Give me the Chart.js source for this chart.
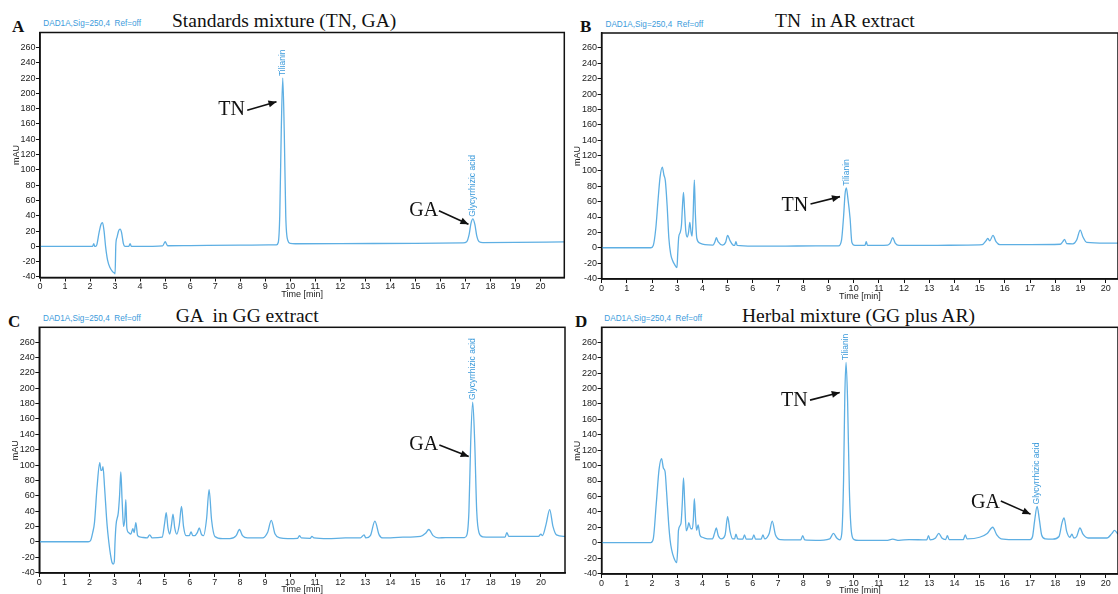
<!DOCTYPE html>
<html>
<head>
<meta charset="utf-8">
<script src="https://cdn.jsdelivr.net/npm/chart.js@4.4.1/dist/chart.umd.min.js"></script>
<style>
  body { margin: 0; background: #fff; }
  #page { position: relative; width: 1118px; height: 594px; overflow: hidden; background: #fff; }
  canvas { position: absolute; }
  .title { position: absolute; font-family: "Liberation Serif", "Times New Roman", serif; font-size: 19.5px; line-height: 1; color: #111; white-space: pre; }
  .letter { position: absolute; font-family: "Liberation Serif", "Times New Roman", serif; font-weight: bold; font-size: 17px; line-height: 1; color: #111; }
  .sig { position: absolute; font-family: "Liberation Sans", Arial, sans-serif; font-size: 8.2px; line-height: 1; color: #3c9bdb; white-space: pre; }
</style>
</head>
<body>
<div id="page">
  <div class="letter" style="left:12px;top:17.5px">A</div>
  <div class="sig" style="left:43.3px;top:20.4px">DAD1A,Sig=250,4  Ref=off</div>
  <div class="title" style="left:172px;top:11.2px">Standards mixture (TN, GA)</div>

  <div class="letter" style="left:580px;top:17.5px">B</div>
  <div class="sig" style="left:605.5px;top:21px">DAD1A,Sig=250,4  Ref=off</div>
  <div class="title" style="left:775px;top:11.4px">TN  in AR extract</div>

  <div class="letter" style="left:8px;top:312.8px">C</div>
  <div class="sig" style="left:43px;top:315px">DAD1A,Sig=250,4  Ref=off</div>
  <div class="title" style="left:175.7px;top:306px">GA  in GG extract</div>

  <div class="letter" style="left:575px;top:312.5px">D</div>
  <div class="sig" style="left:604.3px;top:315px">DAD1A,Sig=250,4  Ref=off</div>
  <div class="title" style="left:742px;top:306px">Herbal mixture (GG plus AR)</div>

  <canvas id="chartA" width="566" height="300" style="left:0;top:0"></canvas>
  <canvas id="chartB" width="552" height="302" style="left:566px;top:0"></canvas>
  <canvas id="chartC" width="566" height="299" style="left:0;top:296px"></canvas>
  <canvas id="chartD" width="552" height="300" style="left:566px;top:296px"></canvas>
</div>
<script>
// Axis ticks
const xTicks = [0, 1, 2, 3, 4, 5, 6, 7, 8, 9, 10, 11, 12, 13, 14, 15, 16, 17, 18, 19, 20];
const yTicks = [-40, -20, 0, 20, 40, 60, 80, 100, 120, 140, 160, 180, 200, 220, 240, 260];

// Traces: [time (min), mAU]
const traceA = [
  [0, 0], [1.0, 0], [2.1, 0], [2.15, 3.5], [2.18, 0.3], [2.22, 0], [2.27, 2], [2.36, 18], [2.44, 29],
  [2.5, 31], [2.56, 20], [2.62, 0], [2.7, -18], [2.8, -28], [2.9, -33], [2.97, -35], [3.0, -36],
  [3.03, 2], [3.08, 12], [3.14, 20], [3.2, 22.5], [3.26, 18], [3.33, 4], [3.4, 0], [3.55, 0],
  [3.6, 3.5], [3.65, 0], [4.5, 0], [4.9, 0.5], [5.0, 6], [5.1, 0.8], [6.0, 1], [8.0, 1.5],
  [9.45, 2], [9.52, 5], [9.58, 40], [9.64, 150], [9.7, 220], [9.76, 150], [9.82, 40], [9.9, 8],
  [10.0, 3.8], [10.2, 3.4], [12.0, 3.5], [15.0, 4], [16.9, 4.6], [17.05, 6], [17.15, 16], [17.22, 30],
  [17.3, 36], [17.38, 28], [17.45, 14], [17.55, 6], [17.7, 5], [19.0, 5.2], [20.95, 5.8]
];

const traceB = [
  [0, 0], [1.95, 0], [2.05, 3], [2.15, 25], [2.24, 62], [2.32, 92], [2.41, 105], [2.47, 95], [2.53, 87],
  [2.6, 55], [2.67, 12], [2.74, -8], [2.82, -17], [2.9, -22], [2.99, -26], [3.02, -8], [3.06, 14],
  [3.12, 20], [3.17, 30], [3.21, 55], [3.25, 72], [3.29, 50], [3.34, 22], [3.4, 14], [3.45, 20],
  [3.5, 33], [3.55, 20], [3.59, 15], [3.63, 40], [3.68, 88], [3.72, 45], [3.78, 12], [3.9, 6],
  [4.1, 4], [4.42, 3.5], [4.5, 8], [4.55, 13], [4.62, 8], [4.8, 3.5], [4.92, 7], [5.0, 16], [5.1, 9],
  [5.2, 4], [5.28, 3], [5.33, 8], [5.38, 3], [6.0, 2], [7.0, 2], [8.5, 2.5], [9.4, 2.5], [9.52, 10],
  [9.6, 40], [9.66, 70], [9.71, 78], [9.77, 65], [9.86, 38], [9.93, 7], [10.05, 3], [10.45, 3],
  [10.5, 8], [10.55, 3], [11.35, 3.5], [11.45, 6], [11.55, 13], [11.65, 6], [11.8, 3], [13.0, 3],
  [14.5, 3.5], [15.1, 4], [15.25, 9], [15.32, 12], [15.4, 9], [15.53, 16], [15.65, 8], [15.8, 4],
  [17.0, 4], [18.2, 4.5], [18.3, 8], [18.37, 11], [18.45, 5.5], [18.7, 5], [18.85, 10], [18.99, 23],
  [19.1, 14], [19.25, 7], [20.0, 6], [20.49, 6]
];

const traceC = [
  [0, 0], [1.95, 0], [2.05, 2], [2.13, 12], [2.2, 25], [2.3, 70], [2.41, 103], [2.46, 93], [2.5, 93],
  [2.54, 98], [2.6, 72], [2.7, 23], [2.77, 0], [2.84, -17], [2.9, -27], [2.95, -29], [2.99, -26],
  [3.02, 0], [3.06, 22], [3.15, 38], [3.2, 60], [3.25, 91], [3.3, 55], [3.36, 20], [3.41, 30],
  [3.45, 55], [3.49, 18], [3.56, 12], [3.65, 10], [3.73, 17], [3.78, 12], [3.85, 25], [3.92, 8],
  [4.05, 6], [4.3, 5], [4.4, 9], [4.5, 5], [4.9, 6], [5.0, 25], [5.06, 38], [5.13, 18], [5.2, 10],
  [5.27, 22], [5.33, 36], [5.4, 18], [5.48, 10], [5.58, 22], [5.67, 46], [5.75, 20], [5.85, 8],
  [5.98, 8], [6.05, 13], [6.12, 8], [6.2, 8], [6.3, 12], [6.38, 18], [6.46, 10], [6.55, 8],
  [6.67, 30], [6.77, 68], [6.87, 28], [7.0, 7], [7.3, 4], [7.6, 4], [7.85, 8], [7.98, 16], [8.1, 8],
  [8.3, 5], [8.9, 5], [9.1, 12], [9.25, 28], [9.4, 10], [9.6, 5], [9.9, 4], [10.3, 4.5], [10.37, 8],
  [10.45, 5], [10.8, 4.5], [10.87, 7], [10.95, 5], [11.5, 4], [12.2, 5], [12.8, 5], [12.95, 9],
  [13.02, 5], [13.2, 8], [13.38, 27], [13.55, 9], [13.7, 5], [14.5, 6], [15.2, 7], [15.4, 11],
  [15.53, 16], [15.7, 8], [15.9, 5], [16.2, 5.5], [16.95, 5.5], [17.05, 9], [17.13, 40], [17.2, 130],
  [17.28, 182], [17.36, 130], [17.44, 40], [17.53, 12], [17.68, 6.5], [18.0, 6], [18.57, 6],
  [18.64, 12], [18.72, 7], [19.2, 7], [19.9, 7], [20.0, 10], [20.06, 8], [20.2, 22], [20.35, 42],
  [20.48, 20], [20.62, 9], [20.96, 7]
];

const traceD = [
  [0, 0], [1.95, 0], [2.05, 5], [2.17, 51], [2.28, 95], [2.38, 109], [2.45, 97], [2.52, 92], [2.58, 65],
  [2.66, 25], [2.72, 3], [2.78, -9.5], [2.87, -20], [2.98, -26], [3.02, -8], [3.05, 16], [3.15, 25],
  [3.2, 50], [3.25, 84], [3.3, 50], [3.36, 15.5], [3.42, 20], [3.46, 26], [3.54, 18], [3.6, 18],
  [3.64, 30], [3.68, 57], [3.73, 30], [3.77, 16], [3.83, 23], [3.9, 10], [4.0, 7], [4.2, 5], [4.4, 5],
  [4.48, 12], [4.55, 19], [4.63, 9], [4.75, 5], [4.9, 10], [5.0, 33.6], [5.1, 14], [5.2, 5], [5.28, 5],
  [5.33, 11], [5.4, 5], [5.6, 4.5], [5.67, 10], [5.74, 4.5], [5.97, 4.5], [6.04, 10], [6.11, 4.5],
  [6.33, 4.5], [6.4, 10], [6.47, 5], [6.65, 12], [6.77, 28], [6.9, 10], [7.1, 4], [7.9, 3.5],
  [7.98, 9], [8.06, 3.5], [8.5, 3], [9.05, 5], [9.2, 12], [9.33, 6], [9.45, 3.5], [9.53, 12],
  [9.6, 80], [9.65, 190], [9.7, 234], [9.76, 185], [9.83, 70], [9.92, 12], [10.02, 4], [10.2, 3],
  [11.3, 3], [11.55, 4.5], [11.8, 3], [12.2, 4], [12.9, 3.5], [12.97, 9], [13.04, 3.5], [13.25, 6],
  [13.38, 12], [13.5, 6], [13.65, 4], [13.72, 9], [13.79, 4], [14.35, 4], [14.43, 10], [14.5, 5],
  [15.0, 7], [15.3, 12], [15.52, 20], [15.68, 10], [15.85, 5], [16.3, 4], [17.0, 4], [17.1, 8],
  [17.18, 28], [17.28, 47], [17.37, 30], [17.46, 10], [17.6, 5], [17.9, 4.5], [18.15, 8], [18.27, 26],
  [18.35, 32], [18.45, 15], [18.58, 7], [18.66, 11], [18.74, 6], [18.85, 8], [18.98, 19], [19.1, 11],
  [19.3, 6], [20.05, 6], [20.25, 12], [20.35, 16], [20.49, 11]
];

// Peak names and arrow callouts (data coordinates)
const notesA = {
  peaks: [{ x: 9.7, y: 220, text: 'Tilianin' }, { x: 17.3, y: 36, text: 'Glycyrrhizic acid' }],
  arrows: [
    { text: 'TN', tx: 7.66, ty: 179, x1: 8.28, y1: 178, x2: 9.45, y2: 189 },
    { text: 'GA', tx: 15.33, ty: 46.6, x1: 15.94, y1: 46.6, x2: 17.12, y2: 29 }
  ]
};
const notesB = {
  peaks: [{ x: 9.71, y: 78, text: 'Tilianin' }],
  arrows: [{ text: 'TN', tx: 7.67, ty: 54.7, x1: 8.29, y1: 57, x2: 9.46, y2: 66.5 }]
};
const notesC = {
  peaks: [{ x: 17.28, y: 182, text: 'Glycyrrhizic acid' }],
  arrows: [{ text: 'GA', tx: 15.33, ty: 126, x1: 15.95, y1: 126, x2: 17.12, y2: 111 }]
};
const notesD = {
  peaks: [{ x: 9.7, y: 234, text: 'Tilianin' }, { x: 17.28, y: 47, text: 'Glycyrrhizic acid' }],
  arrows: [
    { text: 'TN', tx: 7.65, ty: 184, x1: 8.27, y1: 185, x2: 9.45, y2: 195 },
    { text: 'GA', tx: 15.23, ty: 51.8, x1: 15.84, y1: 54, x2: 17.02, y2: 37 }
  ]
};

const LINE = '#5eafe3';
const INK = '#111';
const tickFont = { family: '"Liberation Sans", Arial, sans-serif', size: 9 };

function drawArrow(ctx, x1, y1, x2, y2) {
    ctx.beginPath();
    ctx.moveTo(x1, y1);
    ctx.lineTo(x2, y2);
    ctx.stroke();
    const a = Math.atan2(y2 - y1, x2 - x1), L = 8, W = 3.5;
    ctx.beginPath();
    ctx.moveTo(x2, y2);
    ctx.lineTo(x2 - L * Math.cos(a) + W * Math.sin(a), y2 - L * Math.sin(a) - W * Math.cos(a));
    ctx.lineTo(x2 - L * Math.cos(a) - W * Math.sin(a), y2 - L * Math.sin(a) + W * Math.cos(a));
    ctx.closePath();
    ctx.fill();
}

function notesPlugin(notes) {
    return {
        id: 'notes',
        afterDatasetsDraw(chart) {
            const { ctx, chartArea: a, scales: { x, y } } = chart;
            ctx.save();
            // frame box
            ctx.strokeStyle = INK;
            ctx.lineWidth = 1.5;
            ctx.strokeRect(a.left, a.top, a.right - a.left, a.bottom - a.top);

            // vertical peak names
            ctx.fillStyle = '#3d9bdb';
            ctx.font = '8.5px "Liberation Sans", Arial, sans-serif';
            ctx.textAlign = 'left';
            ctx.textBaseline = 'middle';
            notes.peaks.forEach(p => {
                ctx.save();
                ctx.translate(x.getPixelForValue(p.x), y.getPixelForValue(p.y) - 2);
                ctx.rotate(-Math.PI / 2);
                ctx.fillText(p.text, 0, 0);
                ctx.restore();
            });

            // TN / GA callouts
            ctx.fillStyle = INK;
            ctx.strokeStyle = INK;
            ctx.lineWidth = 1.6;
            ctx.font = '20px "Liberation Serif", "Times New Roman", serif';
            ctx.textAlign = 'center';
            notes.arrows.forEach(n => {
                ctx.fillText(n.text, x.getPixelForValue(n.tx), y.getPixelForValue(n.ty));
                drawArrow(ctx, x.getPixelForValue(n.x1), y.getPixelForValue(n.y1),
                    x.getPixelForValue(n.x2), y.getPixelForValue(n.y2));
            });
            ctx.restore();
        }
    };
}

function makePanel(id, trace, notes, f) {
    const ctx = document.getElementById(id).getContext('2d');
    return new Chart(ctx, {
        type: 'line',
        data: {
            datasets: [{
                data: trace.map(p => ({ x: p[0], y: p[1] })),
                borderColor: LINE,
                borderWidth: 1.3,
                pointRadius: 0,
                fill: false,
                cubicInterpolationMode: 'monotone'
            }]
        },
        options: {
            responsive: false,
            devicePixelRatio: 1,
            animation: false,
            layout: { padding: { top: f.padTop, right: f.padRight, left: 0, bottom: 0 } },
            plugins: { legend: { display: false }, tooltip: { enabled: false } },
            scales: {
                x: {
                    type: 'linear',
                    min: 0,
                    max: f.xMax,
                    afterBuildTicks: s => { s.ticks = xTicks.map(v => ({ value: v })); },
                    afterFit: s => { s.height = f.axisH; },
                    ticks: { font: tickFont, color: '#222', padding: 0, autoSkip: false, maxRotation: 0 },
                    grid: { drawOnChartArea: false, color: INK, tickLength: 4 },
                    border: { color: INK, width: 1.5 },
                    title: { display: true, text: 'Time [min]', font: tickFont, color: '#222', padding: 0 }
                },
                y: {
                    min: -40.7,
                    max: 279.5,
                    afterBuildTicks: s => { s.ticks = yTicks.map(v => ({ value: v })); },
                    afterFit: s => { s.width = f.axisW; },
                    ticks: { font: tickFont, color: '#222', padding: 0.5, autoSkip: false },
                    grid: { drawOnChartArea: false, color: INK, tickLength: 4 },
                    border: { color: INK, width: 1.5 },
                    title: { display: true, text: 'mAU', font: tickFont, color: '#222', padding: { top: f.yTitlePad, bottom: 0 } }
                }
            }
        },
        plugins: [notesPlugin(notes)]
    });
}

makePanel('chartA', traceA, notesA, { padTop: 32.5, padRight: 1.7, axisW: 40, axisH: 22.5, xMax: 20.95, yTitlePad: 11.6 });
makePanel('chartB', traceB, notesB, { padTop: 33, padRight: 0, axisW: 35.6, axisH: 23, xMax: 20.49, yTitlePad: 6.2 });
makePanel('chartC', traceC, notesC, { padTop: 31.3, padRight: 1, axisW: 39.3, axisH: 22, xMax: 20.96, yTitlePad: 10.6 });
makePanel('chartD', traceD, notesD, { padTop: 31.3, padRight: 0, axisW: 35.6, axisH: 22, xMax: 20.49, yTitlePad: 6.2 });
</script>
</body>
</html>
